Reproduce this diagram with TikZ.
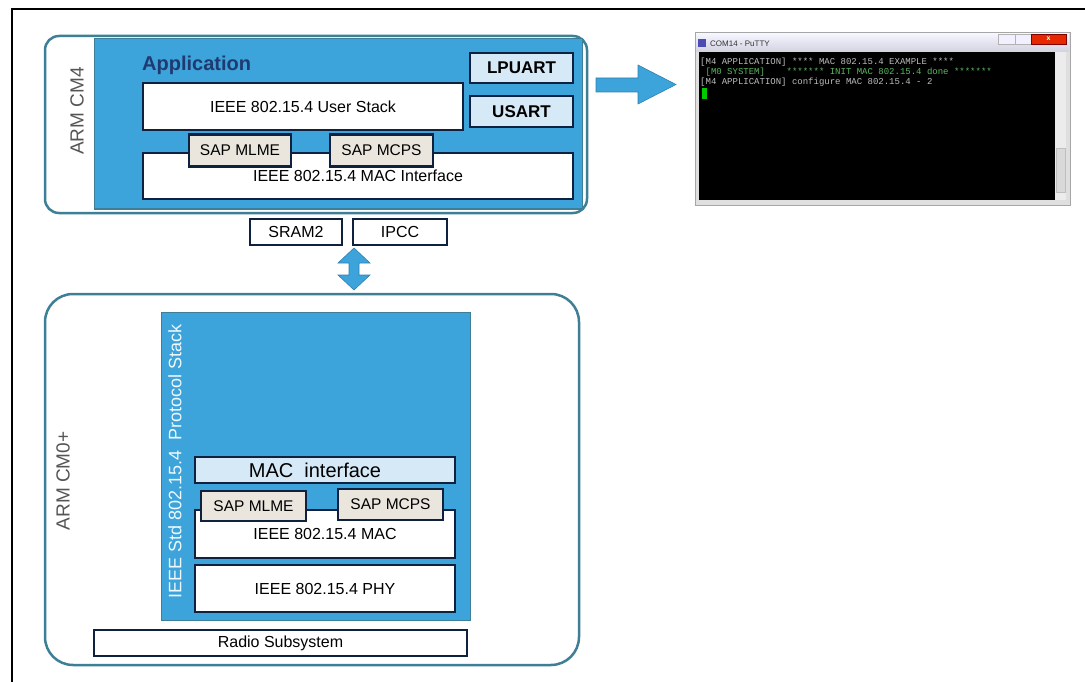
\documentclass[tikz,border=0pt]{standalone}
\usepackage{fontspec}
\setmainfont{Liberation Sans}
\setmonofont{Liberation Mono}

\definecolor{stblue}{RGB}{60,163,219}
\definecolor{stteal}{RGB}{62,126,150}
\definecolor{stnavy}{RGB}{14,34,64}
\definecolor{stlight}{RGB}{214,233,246}
\definecolor{stbeige}{RGB}{234,230,222}
\definecolor{stgrey}{RGB}{85,85,85}
\definecolor{stapp}{RGB}{31,58,112}
\definecolor{termgrey}{RGB}{190,190,190}
\definecolor{termgreen}{RGB}{92,184,96}

\tikzset{
	frame/.style={draw=stteal, line width=2.5, fill=white},
	panel/.style={fill=stblue, draw=stteal, line width=1},
	whitebox/.style={draw=stnavy, line width=2.5, fill=white, inner sep=0, font=\fontsize{16}{18}\selectfont},
	sapbox/.style={whitebox, fill=stbeige, font=\fontsize{15.5}{18}\selectfont},
	uartbox/.style={whitebox, fill=stlight, font=\bfseries\fontsize{17}{19}\selectfont},
	corelabel/.style={rotate=90, text=stgrey, inner sep=0, font=\fontsize{19}{21}\selectfont},
	blockarrow/.style={fill=stblue, draw=stblue!80!black, line width=0.6},
	termline/.style={anchor=west, inner sep=0, font=\ttfamily\fontsize{9}{10}\selectfont},
}

\begin{document}
\begin{tikzpicture}[x=1pt, y=-1pt]

	\useasboundingbox (0,0) rectangle (1085,682);

	% Page frame
	\draw[line width=2] (12,682) -- (12,9) -- (1085,9);

	% ARM CM4 side
	\draw[frame, rounded corners=14] (45,36) rectangle (587,213);
	\fill[panel] (94,39) rectangle (582,209);
	\node[corelabel] (cmfour) at (77,111) {ARM CM4};
	\node[anchor=west, inner sep=0, text=stapp, font=\bfseries\fontsize{20}{22}\selectfont] (app) at (142,65) {Application};

	% UART boxes
	\node[uartbox, minimum width=103, minimum height=30] (lpuart) at (521.5,68) {LPUART};
	\node[uartbox, minimum width=103, minimum height=31] (usart) at (521.5,111.5) {USART};

	% Stack
	\node[whitebox, minimum width=320, minimum height=47] (userstack) at (303,106.5) {IEEE 802.15.4 User Stack};
	\node[whitebox, minimum width=430, minimum height=46] (macif) at (358,176) {\raisebox{-2pt}{IEEE 802.15.4 MAC Interface}};
	\node[sapbox, minimum width=102, minimum height=32] (mlmetop) at (240,150.5) {SAP MLME};
	\node[sapbox, minimum width=103, minimum height=32] (mcpstop) at (381.5,150.5) {SAP MCPS};

	% Shared resources
	\node[whitebox, minimum width=92, minimum height=26] (sram) at (296,232) {SRAM2};
	\node[whitebox, minimum width=94, minimum height=26] (ipcc) at (400,232) {IPCC};

	% Link between cores
	\filldraw[blockarrow] (354,248) -- (370,263) -- (359,263) -- (359,275) -- (370,275) -- (354,290)
		-- (338,275) -- (349,275) -- (349,263) -- (338,263) -- cycle;

	% ARM CM0+ side
	\draw[frame, rounded corners=28] (45,294) rectangle (579,665);
	\fill[panel] (161,312) rectangle (470,620);
	\node[corelabel] (cmzero) at (63,481) {ARM CM0+};
	\node[rotate=90, inner sep=0, text=white!92!stblue, font=\fontsize{18}{20}\selectfont] (protostack) at (175,461.5) {IEEE Std 802.15.4\ \ Protocol Stack};

	% Protocol stack layers
	\node[whitebox, fill=stlight, minimum width=260, minimum height=26, font=\fontsize{20}{22}\selectfont] (macint) at (325,470) {\hspace*{-20pt}MAC\ \ interface};
	\node[whitebox, minimum width=260, minimum height=48] (mac) at (325,534) {\raisebox{-1pt}{IEEE 802.15.4 MAC}};
	\node[sapbox, minimum width=105, minimum height=30] (mlmebot) at (253.5,506) {SAP MLME};
	\node[sapbox, minimum width=105, minimum height=31] (mcpsbot) at (390.5,504.5) {SAP MCPS};
	\node[whitebox, minimum width=260, minimum height=47] (phy) at (325,588.5) {IEEE 802.15.4 PHY};
	\node[whitebox, minimum width=373, minimum height=26] (radio) at (280.5,643) {Radio Subsystem};

	% Arrow to terminal
	\filldraw[blockarrow] (596,78) -- (638,78) -- (638,65) -- (676,84.5) -- (638,104) -- (638,92) -- (596,92) -- cycle;

	% Terminal window
	\draw[draw=gray!70, line width=1, fill=gray!25] (695,33) rectangle (1070,206);
	\shade[top color=blue!4!white, bottom color=blue!18!gray!30] (696,34) rectangle (1069,52);
	\fill[gray!60!blue] (698,39) rectangle (706,47);
	\node[anchor=west, inner sep=0, text=black!80, font=\fontsize{8}{9}\selectfont] (termtitle) at (710,44) {COM14 - PuTTY};
	\draw[gray!60, fill=blue!6!white] (998,34) rectangle (1015,44);
	\draw[gray!60, fill=blue!6!white] (1015,34) rectangle (1031,44);
	\draw[red!50!black, fill=red!65!orange!90!black] (1031,34) rectangle (1066,44);
	\node[text=white, inner sep=0, font=\bfseries\fontsize{7}{8}\selectfont] (closex) at (1048.5,39) {x};
	\fill[black] (699,52) rectangle (1055,200);
	\fill[gray!15] (1055,52) rectangle (1066,200);
	\draw[gray!50, fill=gray!30] (1056,148) rectangle (1065,192);
	\node[termline, text=termgrey] (lineone) at (700,62) {[M4 APPLICATION] **** MAC 802.15.4 EXAMPLE ****};
	\node[termline, text=termgreen] (linetwo) at (700,72) {\ [M0 SYSTEM]\ \ \ \ ******* INIT MAC 802.15.4 done *******};
	\node[termline, text=termgrey] (linethree) at (700,82) {[M4 APPLICATION] configure MAC 802.15.4 - 2};
	\fill[green!80!black] (702,88) rectangle (707,99);

\end{tikzpicture}
\end{document}
